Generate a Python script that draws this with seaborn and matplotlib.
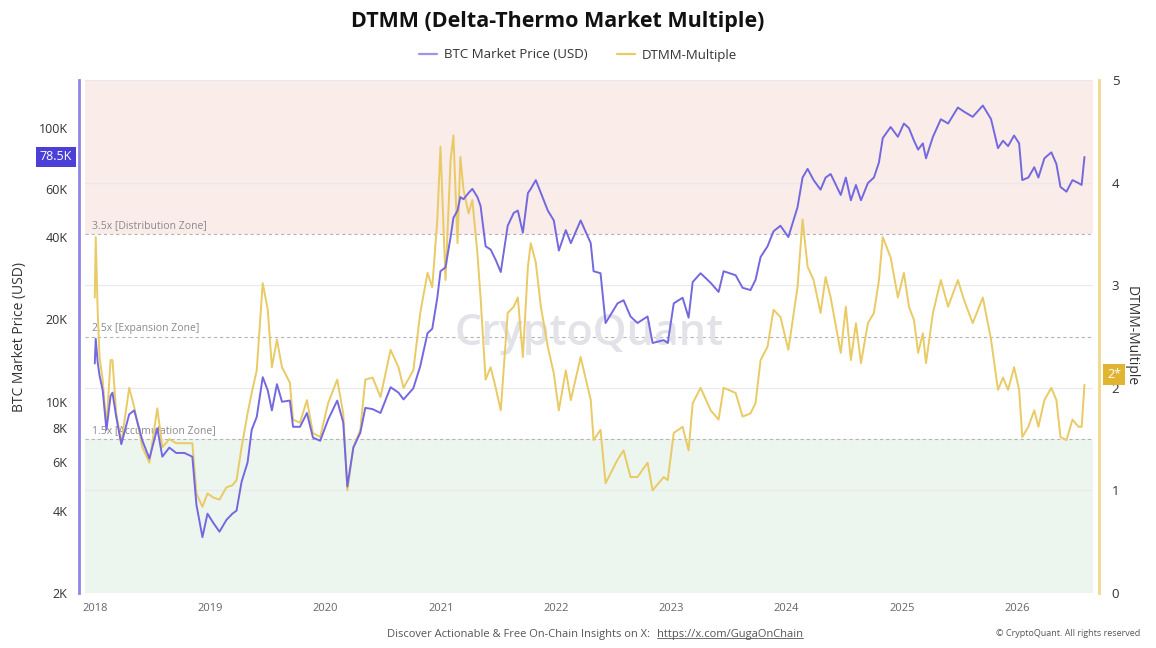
import pandas as pd
import numpy as np
import matplotlib
matplotlib.use('Agg')
import matplotlib.pyplot as plt
import matplotlib.dates as mdates
import matplotlib.ticker as mticker
import matplotlib.transforms as mtransforms
from matplotlib.lines import Line2D
import seaborn as sns

# data
dates = [
    '2018-01-01', '2018-01-04', '2018-01-10', '2018-01-16', '2018-01-26', '2018-02-07', '2018-02-20', '2018-02-26',
    '2018-03-10', '2018-03-26', '2018-04-20', '2018-05-06', '2018-06-01', '2018-06-23', '2018-07-18', '2018-08-03',
    '2018-08-25', '2018-09-16', '2018-10-12', '2018-11-06', '2018-11-19', '2018-12-08', '2018-12-24', '2019-01-12',
    '2019-01-31', '2019-02-22', '2019-03-13', '2019-03-26', '2019-04-11', '2019-04-30', '2019-05-13', '2019-05-29',
    '2019-06-17', '2019-07-03', '2019-07-16', '2019-08-01', '2019-08-17', '2019-09-11', '2019-09-21', '2019-10-13',
    '2019-11-04', '2019-11-23', '2019-12-16', '2020-01-10', '2020-02-08', '2020-02-27', '2020-03-11', '2020-03-30',
    '2020-04-21', '2020-05-07', '2020-05-30', '2020-06-24', '2020-07-26', '2020-08-20', '2020-09-05', '2020-10-06',
    '2020-10-28', '2020-11-20', '2020-12-05', '2020-12-21', '2020-12-31', '2021-01-16', '2021-02-01', '2021-02-10',
    '2021-02-23', '2021-03-04', '2021-03-14', '2021-03-30', '2021-04-11', '2021-04-27', '2021-05-07', '2021-05-23',
    '2021-06-08', '2021-06-24', '2021-07-10', '2021-08-01', '2021-08-20', '2021-09-02', '2021-09-18', '2021-10-04',
    '2021-10-13', '2021-10-29', '2021-11-14', '2021-12-06', '2021-12-25', '2022-01-10', '2022-02-01', '2022-02-17',
    '2022-03-20', '2022-04-21', '2022-04-30', '2022-05-22', '2022-06-07', '2022-07-15', '2022-08-03', '2022-08-25',
    '2022-09-16', '2022-10-18', '2022-11-03', '2022-12-08', '2022-12-21', '2023-01-09', '2023-02-06', '2023-02-25',
    '2023-03-10', '2023-04-04', '2023-05-06', '2023-05-31', '2023-06-16', '2023-07-24', '2023-08-15', '2023-09-09',
    '2023-09-25', '2023-10-11', '2023-11-02', '2023-11-21', '2023-12-13', '2024-01-07', '2024-02-05', '2024-02-21',
    '2024-03-08', '2024-03-27', '2024-04-18', '2024-05-04', '2024-05-20', '2024-06-21', '2024-07-07', '2024-07-23',
    '2024-08-08', '2024-08-24', '2024-09-15', '2024-10-04', '2024-10-20', '2024-11-01', '2024-11-26', '2024-12-19',
    '2025-01-07', '2025-01-23', '2025-02-08', '2025-02-21', '2025-03-08', '2025-03-18', '2025-04-09', '2025-05-04',
    '2025-05-27', '2025-06-27', '2025-07-16', '2025-08-13', '2025-09-14', '2025-10-10', '2025-11-01', '2025-11-17',
    '2025-12-03', '2025-12-22', '2026-01-07', '2026-01-17', '2026-02-05', '2026-02-24', '2026-03-09', '2026-03-28',
    '2026-04-19', '2026-05-05', '2026-05-18', '2026-06-06', '2026-06-25', '2026-07-14', '2026-07-24', '2026-08-02',
]

btc_price = [
    13800, 17000, 14000, 12500, 11000, 7900, 10500, 10800,
    8800, 7000, 9000, 9300, 7200, 6200, 8000, 6300,
    6800, 6500, 6500, 6300, 4200, 3200, 3900, 3600,
    3350, 3700, 3900, 4000, 5100, 6000, 7900, 8800,
    12300, 11000, 9300, 11600, 10000, 10100, 8100, 8100,
    9100, 7400, 7200, 8600, 10100, 8400, 4900, 6800,
    7700, 9500, 9400, 9100, 11300, 10800, 10200, 11200,
    13500, 17800, 18500, 24000, 30000, 31000, 40000, 47000,
    50000, 56000, 55000, 58000, 60000, 56000, 52000, 37000,
    36000, 33000, 29800, 44000, 49000, 50000, 41500, 57900,
    60000, 64600, 58000, 50000, 46000, 35700, 42400, 38000,
    46000, 38000, 30000, 29500, 19400, 22900, 23500, 20500,
    19400, 20500, 16400, 16800, 16400, 22900, 24000, 20300,
    27400, 29500, 27200, 25200, 30000, 29000, 26100, 25600,
    27900, 33800, 37000, 42000, 44000, 40000, 51400, 66000,
    71000, 64600, 59600, 66000, 68000, 57000, 66000, 54500,
    62000, 54500, 63000, 66000, 75000, 92000, 101000, 93000,
    104000, 100000, 90000, 83500, 88000, 77600, 93000, 107800,
    104000, 119000, 115000, 110000, 121000, 108000, 84500, 90000,
    86000, 94000, 88000, 64600, 66000, 72000, 66000, 77600,
    81600, 74000, 61000, 58600, 64600, 63000, 62000, 78500,
]

dtmm_multiple = [
    2.88, 3.47, 2.76, 2.30, 2.08, 1.62, 2.27, 2.27,
    1.75, 1.46, 2.00, 1.81, 1.42, 1.27, 1.80, 1.42,
    1.50, 1.46, 1.46, 1.46, 0.97, 0.84, 0.97, 0.93,
    0.91, 1.03, 1.05, 1.10, 1.42, 1.75, 1.95, 2.17,
    3.02, 2.76, 2.20, 2.47, 2.20, 2.05, 1.69, 1.66,
    1.88, 1.56, 1.52, 1.85, 2.08, 1.75, 1.00, 1.42,
    1.59, 2.08, 2.10, 1.91, 2.37, 2.20, 2.00, 2.17,
    2.73, 3.12, 2.98, 3.64, 4.35, 3.05, 4.22, 4.46,
    3.41, 4.25, 3.93, 3.70, 3.83, 3.31, 2.88, 2.08,
    2.20, 2.00, 1.78, 2.73, 2.79, 2.88, 2.30, 3.18,
    3.41, 3.22, 2.79, 2.40, 2.14, 1.78, 2.17, 1.88,
    2.30, 1.88, 1.49, 1.59, 1.07, 1.30, 1.39, 1.13,
    1.13, 1.27, 1.00, 1.13, 1.10, 1.56, 1.62, 1.39,
    1.85, 2.00, 1.78, 1.69, 2.00, 1.95, 1.72, 1.75,
    1.85, 2.27, 2.40, 2.76, 2.69, 2.37, 2.98, 3.64,
    3.18, 3.05, 2.73, 3.08, 2.88, 2.34, 2.79, 2.27,
    2.63, 2.24, 2.63, 2.73, 3.05, 3.47, 3.27, 2.88,
    3.12, 2.79, 2.66, 2.34, 2.53, 2.24, 2.73, 3.05,
    2.79, 3.05, 2.86, 2.63, 2.88, 2.47, 1.98, 2.10,
    1.98, 2.20, 1.98, 1.52, 1.62, 1.78, 1.62, 1.88,
    2.00, 1.88, 1.52, 1.49, 1.69, 1.62, 1.62, 2.03,
]

zone_levels = [1.5, 2.5, 3.5]
zone_labels = ['1.5x [Accumulation Zone]', '2.5x [Expansion Zone]', '3.5x [Distribution Zone]']
price_ticks = [2000, 4000, 6000, 8000, 10000, 20000, 40000, 60000, 100000]
price_tick_labels = ['2K', '4K', '6K', '8K', '10K', '20K', '40K', '60K', '100K']
year_ticks = ['2018', '2019', '2020', '2021', '2022', '2023', '2024', '2025', '2026']

PURPLE = '#7468e0'
YELLOW = '#e9ca64'

df = pd.DataFrame({'date': pd.to_datetime(dates), 'price': btc_price, 'dtmm': dtmm_multiple})

sns.set_theme(style='white')
plt.rcParams['font.family'] = ['Open Sans', 'DejaVu Sans']

W, H = 1156, 648
fig = plt.figure(figsize=(W / 100, H / 100), dpi=100)
ax = fig.add_axes([85 / W, 55 / H, 1008 / W, 513 / H])
ax2 = ax.twinx()
ax.set_zorder(ax2.get_zorder() + 1)
ax.patch.set_visible(False)

# zone shading and dashed levels (on the right axis)
ax2.axhspan(3.5, 5, color='#f9ece9', lw=0, zorder=0)
ax2.axhspan(0, 1.5, color='#ecf6ef', lw=0, zorder=0)
ax2.set_yticks([0, 1, 2, 3, 4, 5])
ax2.grid(axis='y', color='#e9e9e9', lw=0.8)
ax2.set_axisbelow(True)
blend2 = mtransforms.blended_transform_factory(ax2.transAxes, ax2.transData)
for lvl, lab in zip(zone_levels, zone_labels):
    ax2.axhline(lvl, color='#b5b5b5', ls=(0, (3, 2.5)), lw=0.8, zorder=1)
    ax2.text(0.007, lvl + 0.025, lab, transform=blend2, fontsize=7.5, color='#8a8a8a',
             ha='left', va='bottom', zorder=1)

# watermark
ax2.text(0.5, 0.505, 'CryptoQuant', transform=ax2.transAxes, fontsize=31, color='#e2e2e8',
         ha='center', va='center', fontweight='semibold', zorder=1)

sns.lineplot(data=df, x='date', y='dtmm', ax=ax2, color=YELLOW, lw=1.4, zorder=3)
sns.lineplot(data=df, x='date', y='price', ax=ax, color=PURPLE, lw=1.4, zorder=3)

# left axis: log price
ax.set_yscale('log')
ax.set_ylim(2000, 150000)
ax.set_yticks(price_ticks)
ax.set_yticklabels(price_tick_labels)
ax.yaxis.set_minor_locator(mticker.NullLocator())
ax.tick_params(axis='y', length=0, pad=8, labelsize=9, labelcolor='#333333')
ax.set_ylabel('BTC Market Price (USD)', fontsize=10, color='#333333', labelpad=8)

# right axis: multiple
ax2.set_ylim(0, 5)
ax2.tick_params(axis='y', length=0, pad=9, labelsize=9.5, labelcolor='#333333')
ax2.set_ylabel('DTMM-Multiple', fontsize=10, color='#333333', rotation=-90, labelpad=14)

# x axis
ax.set_xlim(pd.Timestamp('2017-12-01'), pd.Timestamp('2026-08-29'))
ax.set_xticks(pd.to_datetime(year_ticks))
ax.xaxis.set_major_formatter(mdates.DateFormatter('%Y'))
ax.tick_params(axis='x', length=4, width=0.6, color='#dddddd', labelsize=8, labelcolor='#666666', pad=3)
ax.set_xlabel('')

for a in (ax, ax2):
    for s in ('top', 'bottom'):
        a.spines[s].set_visible(False)
ax.spines['right'].set_visible(False)
ax2.spines['left'].set_visible(False)
ax.spines['left'].set_color('#8f86e6')
ax.spines['left'].set_linewidth(2)
ax.spines['left'].set_position(('outward', 4.5))
ax2.spines['right'].set_color('#efd98c')
ax2.spines['right'].set_linewidth(2)
ax2.spines['right'].set_position(('outward', 4.5))

# value badges
blend1 = mtransforms.blended_transform_factory(ax.transAxes, ax.transData)
ax.text(-0.013, btc_price[-1], '78.5K', transform=blend1, ha='right', va='center', color='white',
        fontsize=9, bbox=dict(boxstyle='square,pad=0.3', fc='#4b3fd8', ec='none'), zorder=5, clip_on=False)
ax2.text(1.014, dtmm_multiple[-1] + 0.1, '2*', transform=blend2, ha='left', va='center', color='white',
         fontsize=9, bbox=dict(boxstyle='square,pad=0.3', fc='#e1b532', ec='none'), zorder=5, clip_on=False)

# title and legend
fig.text(558 / W, 1 - 22 / H, 'DTMM (Delta-Thermo Market Multiple)', ha='center', va='center',
         fontsize=15.5, fontweight='bold', color='#111111')
handles = [Line2D([], [], color='#9d95ea', lw=1.6), Line2D([], [], color=YELLOW, lw=1.6)]
fig.legend(handles, ['BTC Market Price (USD)', 'DTMM-Multiple'], loc='center', ncol=2,
           bbox_to_anchor=(0.5, 1 - 55 / H), frameon=False, fontsize=9.5, handlelength=1.4,
           handletextpad=0.5, columnspacing=2.2, labelcolor='#333333')

# footer
foot_y = 1 - 634 / H
fig.text(653 / W, foot_y, 'Discover Actionable & Free On-Chain Insights on X: ', ha='right', va='center',
         fontsize=8, color='#555555')
url = fig.text(657 / W, foot_y, 'https://x.com/GugaOnChain', ha='left', va='center',
               fontsize=8, color='#555555')
fig.text(1140 / W, foot_y, '\u00a9 CryptoQuant. All rights reserved', ha='right', va='center',
         fontsize=6.5, color='#555555')
fig.canvas.draw()
bb = url.get_window_extent().transformed(fig.transFigure.inverted())
fig.add_artist(Line2D([bb.x0, bb.x1], [bb.y0 + 0.002, bb.y0 + 0.002], color='#555555', lw=0.6,
                      transform=fig.transFigure))

fig.savefig('out.png', dpi=100)
